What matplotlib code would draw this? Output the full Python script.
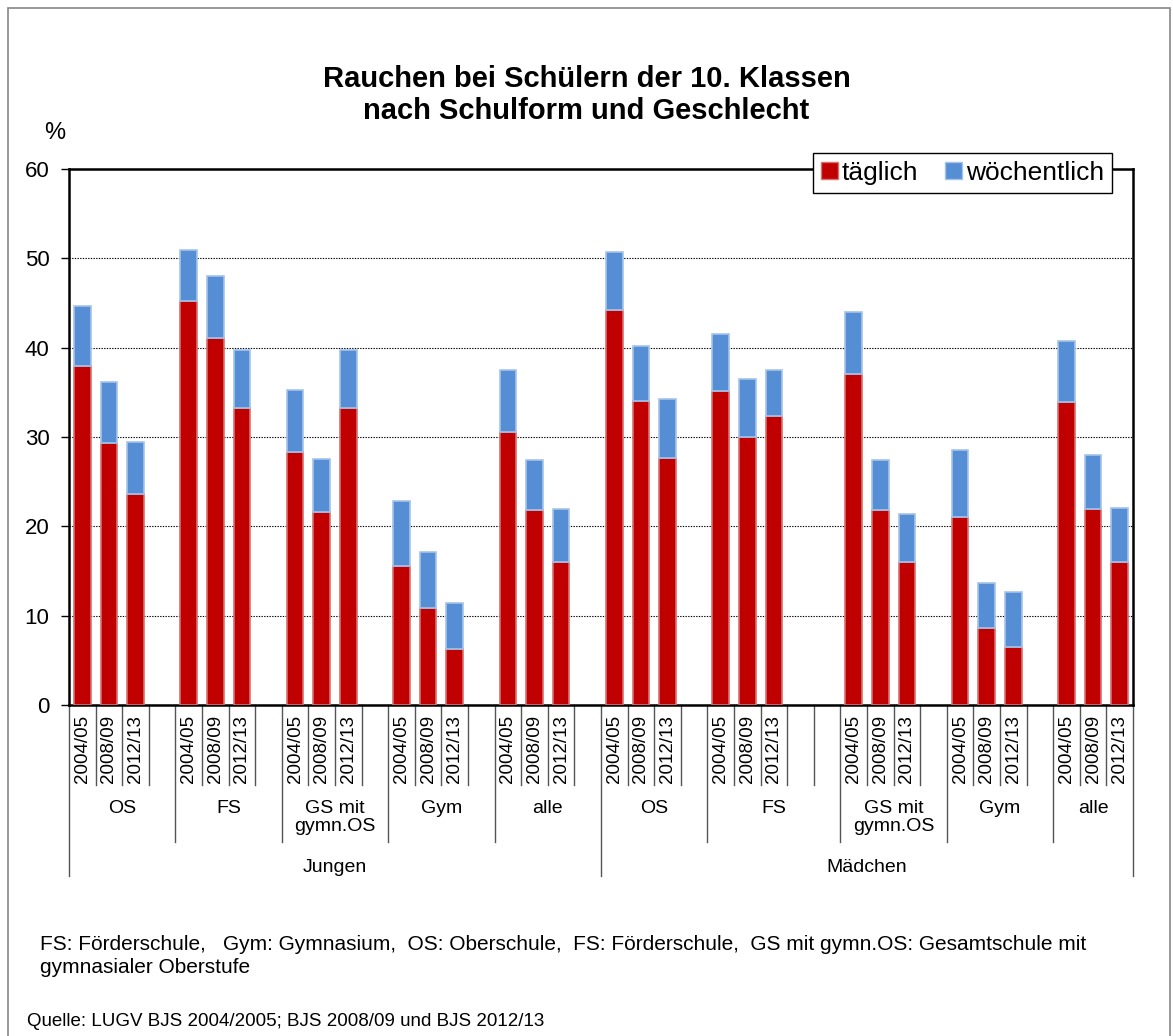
import matplotlib
matplotlib.use("Agg")
from matplotlib import pyplot as plt
from matplotlib.patches import Rectangle, Patch
import matplotlib.transforms as mtransforms

plt.rcParams['font.family'] = ['Liberation Sans', 'DejaVu Sans']

# data
years = ['2004/05', '2008/09', '2012/13']
genders = ['Jungen', 'Mädchen']
schools = ['OS', 'FS', 'GS mit\ngymn.OS', 'Gym', 'alle']
# number of category slots per school group (3 bars + empty slots)
slots_jungen = [4, 4, 4, 4, 4]
slots_maedchen = [4, 5, 4, 4, 3]

daily_jungen = [38.0, 29.3, 23.6,  45.2, 41.1, 33.2,  28.3, 21.6, 33.2,
                15.6, 10.9, 6.3,  30.6, 21.8, 16.0]
total_jungen = [44.7, 36.2, 29.4,  50.9, 48.0, 39.7,  35.3, 27.5, 39.7,
                22.8, 17.1, 11.4,  37.5, 27.4, 21.9]
daily_maedchen = [44.2, 34.0, 27.7,  35.2, 30.0, 32.4,  37.1, 21.8, 16.0,
                  21.1, 8.6, 6.5,  33.9, 21.9, 16.0]
total_maedchen = [50.7, 40.2, 34.2,  41.5, 36.5, 37.5,  44.0, 27.4, 21.4,
                  28.5, 13.7, 12.7,  40.8, 28.0, 22.1]

W, H = 1173, 1036
fig = plt.figure(figsize=(W / 100, H / 100), dpi=100)

# outer frame
fig.patches.append(Rectangle((8 / W, -0.01), (1170 - 8) / W, 1 - 8 / H + 0.01,
                             transform=fig.transFigure, fill=False,
                             edgecolor='#888888', linewidth=1.2))

ax_l, ax_r, ax_t, ax_b = 69, 1133, 169, 705
ax = fig.add_axes([ax_l / W, 1 - ax_b / H, (ax_r - ax_l) / W, (ax_b - ax_t) / H])


def py(p):
    # pixel row -> axes fraction
    return (ax_b - p) / (ax_b - ax_t)


# build slot positions
xs, daily, weekly = [], [], []
group_bounds = []
start = 0
for slots, d_list, t_list in [(slots_jungen, daily_jungen, total_jungen),
                              (slots_maedchen, daily_maedchen, total_maedchen)]:
    for g, n in enumerate(slots):
        group_bounds.append((start, start + n))
        for k in range(3):
            xs.append(start + k + 0.5)
            daily.append(d_list[g * 3 + k])
            weekly.append(t_list[g * 3 + k] - d_list[g * 3 + k])
        start += n
n_slots = start

ax.bar(xs, daily, width=0.62, color='#C00000', edgecolor='#D77070',
       linewidth=1.2, label='täglich', zorder=3)
ax.bar(xs, weekly, bottom=daily, width=0.62, color='#558ED5',
       edgecolor='#A5C3EA', linewidth=1.2, label='wöchentlich', zorder=3)

ax.set_xlim(0, n_slots)
ax.set_ylim(0, 60)
ax.set_yticks(range(0, 61, 10))
ax.tick_params(axis='y', labelsize=16, length=6, width=1, direction='out', pad=8)
ax.set_xticks([])
ax.yaxis.grid(True, linestyle=(0, (1.2, 1.2)), color='black', linewidth=0.8)
ax.set_axisbelow(True)
for s in ax.spines.values():
    s.set_linewidth(1.8)
    s.set_color('black')

trans = mtransforms.blended_transform_factory(ax.transData, ax.transAxes)

# category separators
group_starts = [b[0] for b in group_bounds]
gender_starts = [0, sum(slots_jungen), n_slots]
for i in range(n_slots + 1):
    if i in gender_starts:
        end = py(876)
    elif i in group_starts:
        end = py(842)
    else:
        end = py(785)
    ax.plot([i, i], [0, end], transform=trans, color='#555555', linewidth=1,
            clip_on=False)

# year labels
for idx, x_i in enumerate(xs):
    ax.text(x_i, py(715), years[idx % 3], transform=trans, rotation=90,
            ha='center', va='top', fontsize=13.5)

# school labels
for gi, (a, b) in enumerate(group_bounds):
    ax.text((a + b) / 2, py(800), schools[gi % 5], transform=trans,
            ha='center', va='top', fontsize=14, linespacing=1.1)

# gender labels
half = sum(slots_jungen)
ax.text(half / 2, py(867), genders[0], transform=trans, ha='center',
        va='center', fontsize=14)
ax.text((half + n_slots) / 2, py(867), genders[1], transform=trans,
        ha='center', va='center', fontsize=14)

handles = [Patch(facecolor='#C00000', edgecolor='#D77070', label='täglich'),
           Patch(facecolor='#558ED5', edgecolor='#A5C3EA', label='wöchentlich')]
leg = ax.legend(handles=handles, loc='upper right', ncol=2,
                bbox_to_anchor=(1112 / W, 1 - 153 / H),
                bbox_transform=fig.transFigure, fontsize=19, frameon=True,
                fancybox=False, framealpha=1, edgecolor='black',
                handlelength=0.65, handleheight=0.65, handletextpad=0.15,
                columnspacing=1.0, borderpad=0.3, borderaxespad=0)
leg.get_frame().set_linewidth(1.0)
leg.set_zorder(10)

fig.text(0.5, 1 - 95 / H, 'Rauchen bei Schülern der 10. Klassen\nnach Schulform und Geschlecht',
         ha='center', va='center', fontsize=21, fontweight='bold', linespacing=1.15)
fig.text(55 / W, 1 - 133 / H, '%', ha='center', va='center', fontsize=17)

fig.text(40 / W, 1 - 956 / H,
         'FS: Förderschule,   Gym: Gymnasium,  OS: Oberschule,  FS: Förderschule,  '
         'GS mit gymn.OS: Gesamtschule mit\ngymnasialer Oberstufe',
         ha='left', va='center', fontsize=15, linespacing=1.3)
fig.text(27 / W, 1 - 1022 / H, 'Quelle: LUGV BJS 2004/2005; BJS 2008/09 und BJS 2012/13',
         ha='left', va='center', fontsize=13.5)

fig.savefig('out.png', dpi=100)
